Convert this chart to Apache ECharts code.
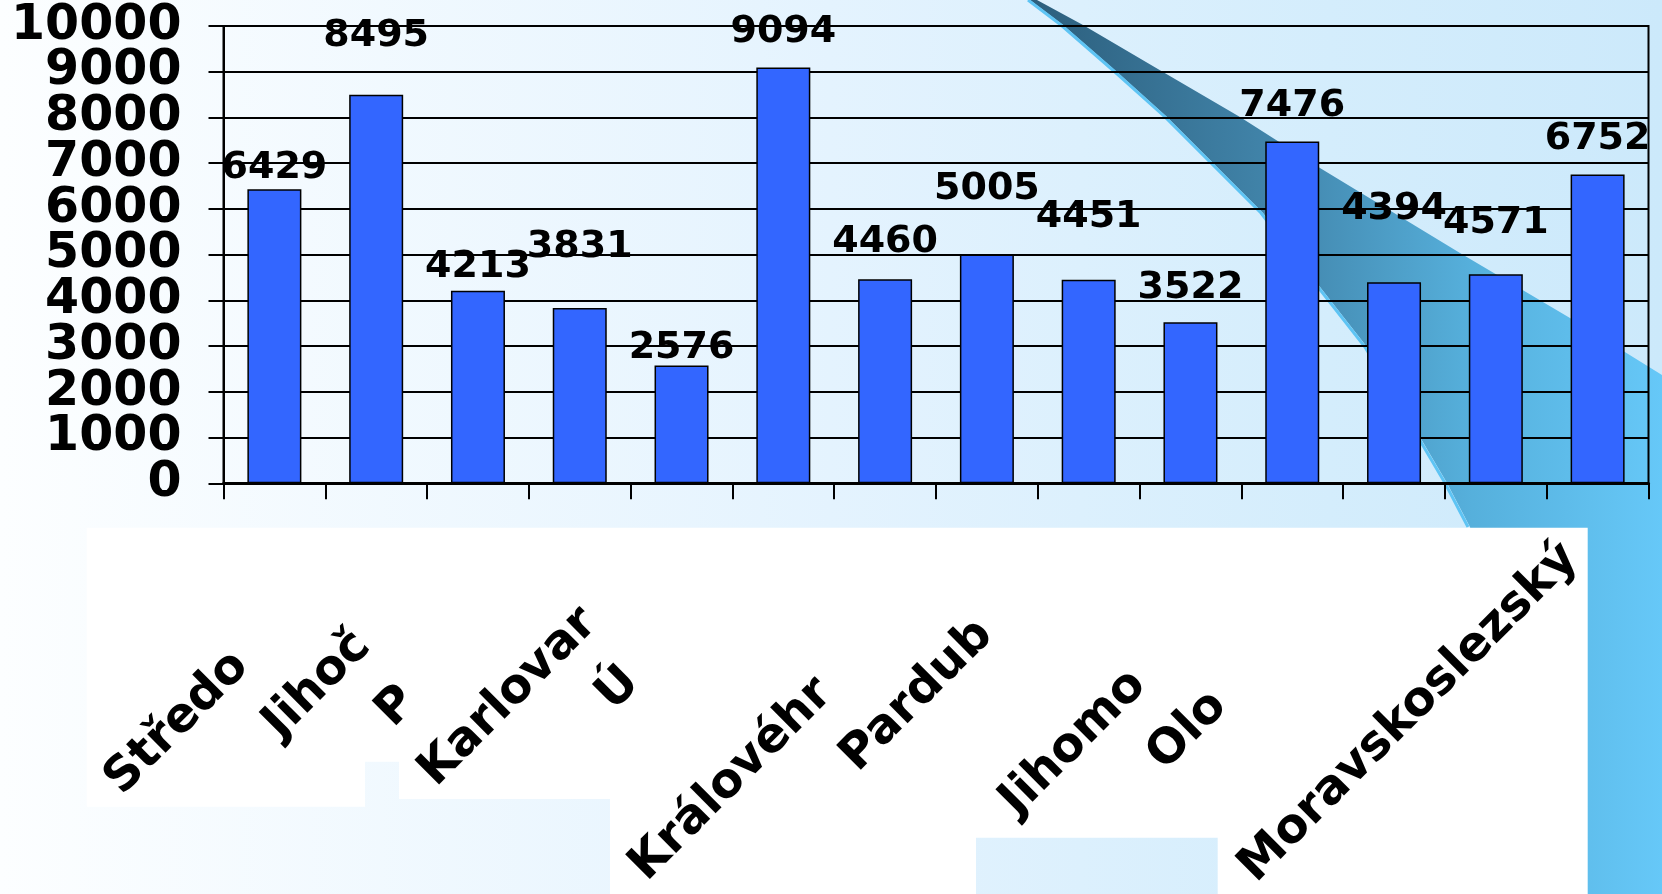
<!DOCTYPE html>
<html>
<head>
<meta charset="utf-8">
<style>
html,body{margin:0;padding:0;background:#ffffff;}
#chart{width:1662px;height:894px;}
</style>
<script src="https://cdn.jsdelivr.net/npm/echarts@6/dist/echarts.min.js"></script>
</head>
<body>
<div id="chart"></div>
<script>
// ---- data ----
const regions = ["Hlavní město Praha", "Středočeský", "Jihočeský", "Plzeňský", "Karlovarský", "Ústecký", "Liberecký",
  "Královéhradecký", "Pardubický", "Vysočina", "Jihomoravský", "Olomoucký", "Zlínský", "Moravskoslezský"];
const counts = [6429, 8495, 4213, 3831, 2576, 9094, 4460, 5005, 4451, 3522, 7476, 4394, 4571, 6752];
const yMin = 0, yMax = 10000, yStep = 1000;

// ---- layout of the (partly clipped) labels in the reference ----
const visibleChars = [0, 6, 5, 1, 8, 1, 0, 9, 6, 0, 6, 3, 0, 15];
const labelLift = [-14, 24, -11, 26, -18, 0, 2, 30, 28, -1, 0, 38, 16, 0];

const FONT = 'DejaVu Sans';
const chart = echarts.init(document.getElementById('chart'), null, {renderer: 'canvas'});

const leftCurve = [[1030,0],[1063,25],[1117,72],[1167,117],[1213,163],[1263,213],[1320,287],[1367,347],[1447,483],[1470,527],[1560,894]];
const rightEdge = [[1037,0],[1083,25],[1163,72],[1240,117],[1320,168],[1460,253],[1570,318],[1662,375]];
const bandPts = leftCurve.concat([[1662,894]]).concat(rightEdge.slice().reverse());
const edgePts = leftCurve.slice(0, 10).map(p => [p[0] - 2, p[1]]);
const whitePts = [[86.7,527.7],[1587.7,527.7],[1587.7,894],[1217.7,894],[1217.7,837.7],[976,837.7],[976,894],
  [610,894],[610,799],[399,799],[399,761.7],[365,761.7],[365,806.7],[86.7,806.7]];

const yLabelStyle = {
  color: '#000', fontSize: 49, fontWeight: 'bold', fontFamily: FONT, margin: 42,
  showMinLabel: true, showMaxLabel: true, hideOverlap: false
};

const option = {
  animation: false,
  backgroundColor: 'transparent',
  graphic: [
    {type: 'rect', z: -10, shape: {x: 0, y: 0, width: 1662, height: 894},
      style: {fill: new echarts.graphic.LinearGradient(0, 0, 1, 0, [
        {offset: 0, color: '#FCFEFF'}, {offset: 0.5, color: '#E4F3FE'},
        {offset: 0.8, color: '#D4EDFC'}, {offset: 1, color: '#CCE9FB'}])}},
    {type: 'polygon', z: -9, shape: {points: bandPts},
      style: {fill: new echarts.graphic.LinearGradient(0, 0, 1, 0, [
        {offset: 0, color: '#2C5E7C'}, {offset: 0.4, color: '#4286AC'},
        {offset: 0.7, color: '#56B0DC'}, {offset: 1, color: '#66C8F8'}])}},
    {type: 'polyline', z: -9, shape: {points: edgePts},
      style: {stroke: '#5EC4F4', lineWidth: 3, fill: null}},
    {type: 'polygon', z: -8, shape: {points: whitePts}, style: {fill: '#FFFFFF'}}
  ],
  grid: {
    left: 223.5, right: 13.5, top: 26, bottom: 410.7,
    show: true, borderColor: '#000', borderWidth: 2, backgroundColor: 'transparent',
    containLabel: false, outerBoundsMode: 'none'
  },
  xAxis: {
    type: 'category',
    data: regions,
    boundaryGap: true,
    axisLine: {show: true, lineStyle: {color: '#000', width: 3}},
    axisTick: {show: true, length: 16, lineStyle: {color: '#000', width: 2}},
    axisLabel: {
      interval: 0,
      rotate: 45,
      margin: 41,
      padding: [0, 38, 0, 0],
      hideOverlap: false,
      formatter: function (value, idx) {
        const n = visibleChars[idx];
        const a = value.slice(0, n), b = value.slice(n);
        return (a ? '{v|' + a + '}' : '') + (b ? '{h|' + b + '}' : '');
      },
      rich: {
        v: {color: '#000', fontSize: 48, fontWeight: 'bold', fontFamily: FONT},
        h: {color: 'rgba(0,0,0,0)', fontSize: 48, fontWeight: 'bold', fontFamily: FONT}
      }
    },
    splitLine: {show: false}
  },
  yAxis: [{
    type: 'value',
    position: 'left',
    min: yMin, max: yMax, interval: yStep,
    axisLine: {show: true, lineStyle: {color: '#000', width: 2}},
    axisTick: {show: true, length: 15, lineStyle: {color: '#000', width: 2}},
    axisLabel: Object.assign({}, yLabelStyle, {
      formatter: function (v) { return (v / yStep) % 2 === 0 ? String(v) : ''; }
    }),
    splitLine: {show: true, lineStyle: {color: '#000', width: 2}}
  }, {
    type: 'value',
    position: 'left',
    offset: 0,
    min: yMin, max: yMax, interval: yStep,
    axisLine: {show: false},
    axisTick: {show: false},
    axisLabel: Object.assign({}, yLabelStyle, {
      formatter: function (v) { return (v / yStep) % 2 === 1 ? String(v) : ''; }
    }),
    splitLine: {show: false}
  }],
  series: [{
    type: 'bar',
    yAxisIndex: 0,
    barWidth: 54,
    data: counts.map((v, i) => ({value: v, label: {offset: [0, -labelLift[i]]}})),
    itemStyle: {color: '#3366FF', borderColor: '#000', borderWidth: 1.5},
    label: {show: true, position: 'top', distance: 16, color: '#000', fontSize: 38,
      fontWeight: 'bold', fontFamily: FONT}
  }]
};
chart.setOption(option);
</script>
</body>
</html>
